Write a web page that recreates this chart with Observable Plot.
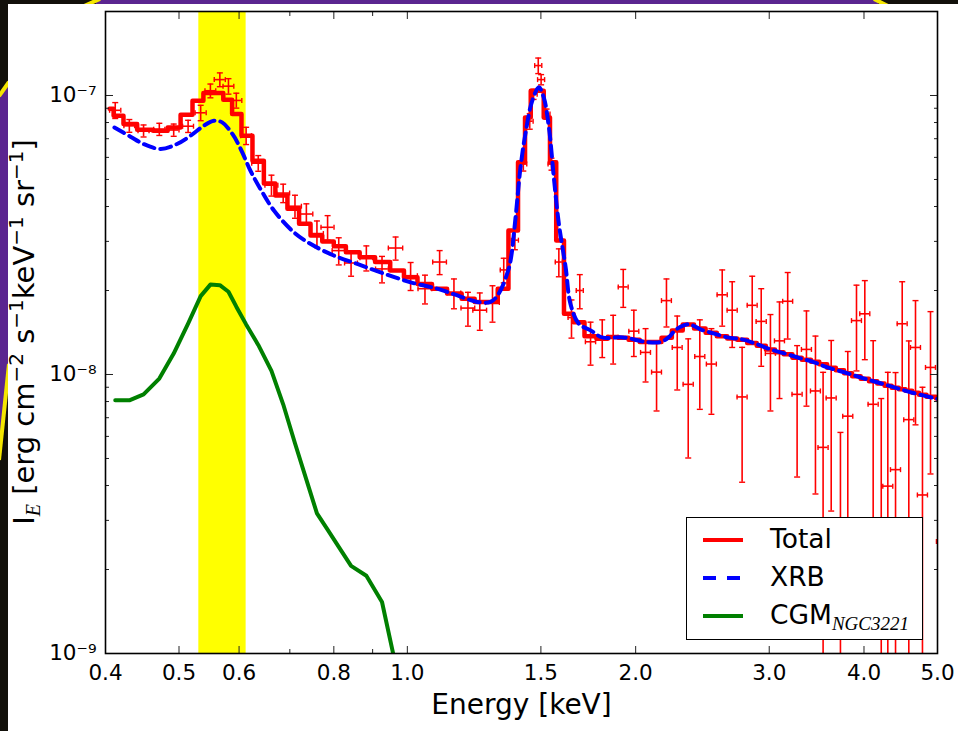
<!DOCTYPE html>
<html><head><meta charset="utf-8">
<script src="https://cdn.jsdelivr.net/npm/d3@7"></script>
<script src="https://cdn.jsdelivr.net/npm/@observablehq/plot@0.6"></script>
<style>
html,body{margin:0;padding:0;background:#fff;}
#wrap{position:relative;width:958px;height:731px;overflow:hidden;background:#12100a;font-family:"DejaVu Sans",sans-serif;color:#000;}
#deco{position:absolute;left:0;top:0;}
#panel{position:absolute;left:8px;top:4px;right:0;bottom:0;background:#fff;}
#chart{position:absolute;left:0;top:0;}
#ylab{position:absolute;left:25px;top:332px;transform:translate(-50%,-50%) rotate(-90deg);white-space:nowrap;font-size:29px;line-height:1;}
#ylab sub{font:italic 20px "Liberation Serif",serif;vertical-align:-6px;}
#ylab sup{font-size:20px;vertical-align:11px;line-height:1;}
#legend{position:absolute;left:686px;top:517px;width:235px;height:121px;border:1.6px solid #000;background:#fff;}
#legend .sw{position:absolute;left:15px;width:42px;height:10px;}
#legend .lb{position:absolute;left:83px;font-size:26.5px;line-height:1;}
#legend .lb i{font:italic 19px "Liberation Serif",serif;position:relative;top:6px;}
</style></head><body>
<div id="wrap">
  <svg id="deco" width="958" height="731">
    <rect x="0" y="0" width="958" height="731" fill="#12100a"/>
    <polygon points="96,0 878,0 878,4 96,4" fill="#5b2590"/>
    <polygon points="0,94 8,84 8,366 0,458" fill="#5b2590"/>
    <line x1="100" y1="-1" x2="84" y2="6" stroke="#f5e600" stroke-width="4"/>
    <line x1="874" y1="-1" x2="888" y2="6" stroke="#f5e600" stroke-width="4"/>
    <line x1="9" y1="82" x2="-1" y2="96" stroke="#f5e600" stroke-width="4"/>
    <line x1="9" y1="364" x2="-1" y2="460" stroke="#f5e600" stroke-width="4"/>
  </svg>
  <div id="panel"></div>
  <div id="chart"></div>
  <div id="ylab">I<sub>E</sub> [erg cm<sup>−2</sup> s<sup>−1</sup>keV<sup>−1</sup> sr<sup>−1</sup>]</div>
  <div id="legend">
    <svg class="sw" style="top:17px"><line x1="1" y1="5" x2="41" y2="5" stroke="#ff0000" stroke-width="4"/></svg>
    <div class="lb" style="top:8px">Total</div>
    <svg class="sw" style="top:55px"><line x1="1" y1="5" x2="41" y2="5" stroke="#0000ff" stroke-width="4" stroke-dasharray="13,11"/></svg>
    <div class="lb" style="top:46px">XRB</div>
    <svg class="sw" style="top:93px"><line x1="1" y1="5" x2="41" y2="5" stroke="#008000" stroke-width="4"/></svg>
    <div class="lb" style="top:84px">CGM<i>NGC3221</i></div>
  </div>
</div>
<script>
// ---- observed spectrum (keV, erg cm^-2 s^-1 keV^-1 sr^-1) ----
const energy = [0.412,0.430,0.449,0.471,0.492,0.514,0.534,0.550,0.566,0.581,0.595,0.613,0.636,0.662,0.686,0.711,0.736,0.760,0.785,0.812,0.843,0.883,0.926,0.965,1.010,1.055,1.103,1.152,1.202,1.246,1.295,1.340,1.386,1.422,1.450,1.467,1.488,1.501,1.526,1.549,1.584,1.646,1.688,1.744,1.807,1.868,1.926,1.989,2.061,2.131,2.196,2.269,2.346,2.430,2.517,2.601,2.681,2.763,2.849,2.928,3.011,3.095,3.173,3.265,3.359,3.452,3.533,3.621,3.724,3.808,3.910,4.010,4.113,4.215,4.300,4.402,4.492,4.583,4.677,4.777,4.895,5.061];
const energyErr = [0.007,0.007,0.0075,0.008,0.008,0.0085,0.009,0.009,0.0095,0.0095,0.010,0.010,0.0125,0.013,0.0135,0.014,0.0145,0.015,0.0155,0.016,0.0165,0.017,0.018,0.021,0.021,0.022,0.023,0.024,0.025,0.026,0.027,0.014,0.015,0.015,0.015,0.016,0.016,0.016,0.016,0.016,0.017,0.017,0.018,0.027,0.027,0.028,0.029,0.030,0.031,0.032,0.033,0.034,0.036,0.037,0.038,0.040,0.041,0.042,0.043,0.045,0.046,0.047,0.048,0.050,0.051,0.052,0.054,0.055,0.057,0.058,0.059,0.061,0.063,0.064,0.065,0.067,0.068,0.070,0.071,0.073,0.074,0.077];
const intensity = [8.85e-8,7.79e-8,7.47e-8,7.57e-8,7.52e-8,7.76e-8,8.67e-8,1.04e-7,1.14e-7,1.08e-7,9.60e-8,7.18e-8,5.72e-8,4.77e-8,4.47e-8,4.01e-8,3.76e-8,3.20e-8,3.37e-8,2.78e-8,2.51e-8,2.62e-8,2.39e-8,2.84e-8,2.26e-8,2.03e-8,2.53e-8,1.96e-8,1.73e-8,1.70e-8,1.81e-8,2.37e-8,3.03e-8,5.68e-8,8.09e-8,1.01e-7,1.28e-7,1.14e-7,8.58e-8,5.68e-8,2.53e-8,1.60e-8,2.00e-8,1.31e-8,1.36e-8,1.36e-8,2.06e-8,1.43e-8,1.20e-8,1.02e-8,1.84e-8,1.25e-8,9.22e-9,1.16e-8,1.09e-8,1.93e-8,1.70e-8,8.31e-9,1.77e-8,1.55e-8,1.19e-8,1.32e-8,1.83e-8,8.49e-9,1.23e-8,8.73e-9,5.48e-9,8.24e-9,5.0e-10,7.09e-9,1.56e-8,1.65e-8,7.82e-9,5.0e-10,3.98e-9,4.56e-9,1.52e-8,6.89e-9,1.25e-8,3.70e-9,1.06e-8,2.52e-9];
const intensityErr = [5.8e-9,4.1e-9,3.7e-9,3.8e-9,3.8e-9,3.9e-9,5.5e-9,5.9e-9,6.5e-9,6.9e-9,5.9e-9,5.1e-9,3.7e-9,4.1e-9,3.4e-9,3.8e-9,3.3e-9,3.5e-9,3.4e-9,3.1e-9,2.6e-9,2.7e-9,2.6e-9,2.7e-9,2.6e-9,2.4e-9,2.5e-9,2.4e-9,2.4e-9,2.6e-9,2.7e-9,2.4e-9,2.3e-9,3.2e-9,5.2e-9,4.2e-9,8.2e-9,4.8e-9,3.6e-9,2.8e-9,2.9e-9,2.5e-9,2.8e-9,2.3e-9,2.1e-9,2.7e-9,3.2e-9,2.7e-9,2.6e-9,2.8e-9,3.6e-9,3.7e-9,4.2e-9,4.1e-9,3.7e-9,4.4e-9,4.5e-9,4.2e-9,4.8e-9,4.8e-9,4.5e-9,5.0e-9,4.9e-9,4.2e-9,4.6e-9,5.0e-9,4.7e-9,5.0e-9,5.7e-9,5.0e-9,5.3e-9,5.2e-9,5.4e-9,7.7e-9,6.2e-9,5.6e-9,6.3e-9,6.3e-9,5.9e-9,5.3e-9,6.2e-9,5.0e-9];

// ---- model: Total (binned, drawn as steps) ----
const totalEnergy = [0.405,0.415,0.430,0.451,0.4735,0.493,0.512,0.530,0.547,0.564,0.580,0.595,0.614,0.636,0.658,0.682,0.708,0.732,0.759,0.786,0.814,0.846,0.885,0.929,0.970,1.010,1.053,1.103,1.154,1.205,1.249,1.295,1.337,1.382,1.417,1.442,1.467,1.498,1.528,1.556,1.587,1.631,1.681,1.744,1.807,1.868,1.926,1.989,2.061,2.131,2.196,2.269,2.346,2.430,2.517,2.601,2.681,2.763,2.849,2.928,3.011,3.095,3.173,3.265,3.359,3.452,3.533,3.621,3.724,3.808,3.910,4.010,4.113,4.215,4.300,4.402,4.492,4.583,4.677,4.777,4.895,5.061];
const totalModel = [8.96e-8,8.46e-8,7.90e-8,7.54e-8,7.47e-8,7.68e-8,8.53e-8,9.57e-8,1.02e-7,1.02e-7,9.65e-8,8.58e-8,7.18e-8,5.84e-8,4.84e-8,4.38e-8,3.93e-8,3.47e-8,3.15e-8,3.00e-8,2.88e-8,2.74e-8,2.63e-8,2.53e-8,2.36e-8,2.23e-8,2.11e-8,2.03e-8,1.95e-8,1.87e-8,1.82e-8,1.82e-8,2.03e-8,3.28e-8,5.76e-8,8.34e-8,1.04e-7,1.04e-7,8.34e-8,5.76e-8,3.02e-8,1.65e-8,1.54e-8,1.370e-8,1.344e-8,1.362e-8,1.355e-8,1.333e-8,1.307e-8,1.307e-8,1.355e-8,1.439e-8,1.512e-8,1.463e-8,1.410e-8,1.370e-8,1.347e-8,1.333e-8,1.298e-8,1.267e-8,1.228e-8,1.201e-8,1.181e-8,1.149e-8,1.129e-8,1.110e-8,1.088e-8,1.057e-8,1.035e-8,1.010e-8,9.85e-9,9.65e-9,9.46e-9,9.28e-9,9.11e-9,8.96e-9,8.85e-9,8.74e-9,8.60e-9,8.46e-9,8.32e-9,8.20e-9];

// ---- model: XRB ----
const xrbEnergy = [0.411,0.4315,0.449,0.473,0.497,0.518,0.539,0.556,0.570,0.588,0.603,0.621,0.640,0.667,0.708,0.745,0.800,0.859,0.931,1.010,1.095,1.164,1.236,1.287,1.320,1.354,1.368,1.389,1.410,1.431,1.461,1.491,1.513,1.537,1.560,1.584,1.617,1.641,1.683,1.744,1.807,1.927,2.061,2.157,2.210,2.251,2.292,2.334,2.377,2.435,2.533,2.643,2.774,2.895,3.011,3.170,3.298,3.431,3.580,3.805,3.994,4.206,4.428,4.649,5.0];
const xrbModel = [7.68e-8,7.12e-8,6.70e-8,6.43e-8,6.70e-8,7.18e-8,7.79e-8,8.12e-8,8.01e-8,7.28e-8,6.43e-8,5.38e-8,4.63e-8,3.87e-8,3.24e-8,2.94e-8,2.67e-8,2.49e-8,2.30e-8,2.14e-8,2.03e-8,1.92e-8,1.82e-8,1.82e-8,1.95e-8,2.30e-8,2.56e-8,3.66e-8,5.53e-8,7.28e-8,9.57e-8,1.07e-7,9.84e-8,7.68e-8,5.09e-8,3.47e-8,2.42e-8,1.79e-8,1.52e-8,1.439e-8,1.358e-8,1.358e-8,1.309e-8,1.307e-8,1.358e-8,1.434e-8,1.482e-8,1.512e-8,1.500e-8,1.451e-8,1.404e-8,1.358e-8,1.333e-8,1.282e-8,1.231e-8,1.181e-8,1.143e-8,1.108e-8,1.061e-8,1.010e-8,9.69e-9,9.30e-9,8.92e-9,8.58e-9,8.18e-9];

// ---- model: CGM NGC3221 ----
const cgmEnergy = [0.412,0.430,0.449,0.471,0.492,0.514,0.534,0.550,0.566,0.581,0.595,0.613,0.636,0.662,0.686,0.711,0.736,0.760,0.785,0.812,0.843,0.883,0.926,0.965];
const cgmModel = [8.08e-9,8.08e-9,8.49e-9,9.67e-9,1.188e-8,1.522e-8,1.909e-8,2.10e-8,2.09e-8,1.98e-8,1.75e-8,1.512e-8,1.276e-8,1.031e-8,7.82e-9,5.67e-9,4.20e-9,3.18e-9,2.78e-9,2.41e-9,2.06e-9,1.90e-9,1.53e-9,9.1e-10];

// ---- highlighted band (keV) ----
const bandStart = [0.531];
const bandEnd = [0.613];

// ---- axes ----
const xTickLabels = [0.4,0.5,0.6,0.8,1.0,1.5,2.0,3.0,4.0,5.0];
const xMinorTicks = [0.7,0.9];
const yTicks = [1e-9,1e-8,1e-7];
const yMinorTicks = [2e-9,3e-9,4e-9,5e-9,6e-9,7e-9,8e-9,9e-9,2e-8,3e-8,4e-8,5e-8,6e-8,7e-8,8e-8,9e-8,2e-7];

const data = energy.map((E,i)=>({E, dE: energyErr[i], I: intensity[i], dI: intensityErr[i]}));
const total = totalEnergy.map((E,i)=>({E, I: totalModel[i]}));
const xrb = xrbEnergy.map((E,i)=>({E, I: xrbModel[i]}));
const cgm = cgmEnergy.map((E,i)=>({E, I: cgmModel[i]}));
const band = bandStart.map((s,i)=>({x1: s, x2: bandEnd[i]}));

const hCap = {draw(ctx, size){const r=Math.sqrt(size/Math.PI); ctx.moveTo(-r,0); ctx.lineTo(r,0);}};
const vCap = {draw(ctx, size){const r=Math.sqrt(size/Math.PI); ctx.moveTo(0,-r); ctx.lineTo(0,r);}};
const sup = {"-":"⁻","0":"⁰","1":"¹","2":"²","3":"³","4":"⁴","5":"⁵","6":"⁶","7":"⁷","8":"⁸","9":"⁹"};
const powFmt = d => "10" + String(Math.round(Math.log10(d))).split("").map(c=>sup[c]).join("");
const red = "#ff0000";
const lower = d => Math.max(d.I - d.dI, 1e-11);

const chart = Plot.plot({
  width: 958, height: 731,
  marginLeft: 105, marginRight: 21, marginTop: 11, marginBottom: 78,
  x: {type: "log", domain: [0.4, 5.0]},
  y: {type: "log", domain: [1e-9, 2e-7]},
  style: {background: "transparent", fontFamily: "DejaVu Sans", overflow: "visible", color: "black"},
  marks: [
    Plot.rect(band, {x1: "x1", x2: "x2", fill: "#ffff00"}),
    Plot.line(total, {x: "E", y: "I", curve: "step", stroke: red, strokeWidth: 4.5, clip: true}),
    Plot.ruleX(data, {x: "E", y1: lower, y2: d => d.I + d.dI, stroke: red, strokeWidth: 1.6, clip: true}),
    Plot.ruleY(data, {y: "I", x1: d => d.E - d.dE, x2: d => d.E + d.dE, stroke: red, strokeWidth: 1.6, clip: true}),
    Plot.dot(data, {x: "E", y: d => d.I + d.dI, symbol: hCap, r: 3, fill: "none", stroke: red, strokeWidth: 1.4, clip: true}),
    Plot.dot(data.filter(d => d.I - d.dI > 0), {x: "E", y: d => d.I - d.dI, symbol: hCap, r: 3, fill: "none", stroke: red, strokeWidth: 1.4, clip: true}),
    Plot.dot(data, {x: d => d.E - d.dE, y: "I", symbol: vCap, r: 2.5, fill: "none", stroke: red, strokeWidth: 1.4, clip: true}),
    Plot.dot(data, {x: d => d.E + d.dE, y: "I", symbol: vCap, r: 2.5, fill: "none", stroke: red, strokeWidth: 1.4, clip: true}),
    Plot.line(xrb, {x: "E", y: "I", curve: "catmull-rom", stroke: "#0000ff", strokeWidth: 4, strokeDasharray: "11,6", clip: true}),
    Plot.line(cgm, {x: "E", y: "I", stroke: "#008000", strokeWidth: 4, clip: true}),
    // ticks (inward)
    Plot.axisX(xTickLabels, {anchor: "bottom", tickSize: 7, dy: -7, fill: "none", label: null, stroke: "#222"}),
    Plot.axisX(xTickLabels, {anchor: "top", tickSize: 7, dy: 7, fill: "none", label: null, stroke: "#222"}),
    Plot.axisX(xMinorTicks, {anchor: "bottom", tickSize: 4, dy: -4, fill: "none", label: null, stroke: "#222"}),
    Plot.axisX(xMinorTicks, {anchor: "top", tickSize: 4, dy: 4, fill: "none", label: null, stroke: "#222"}),
    Plot.axisY(yTicks, {anchor: "left", tickSize: 8, dx: 8, fill: "none", label: null, stroke: "#222"}),
    Plot.axisY(yTicks, {anchor: "right", tickSize: 8, dx: -8, fill: "none", label: null, stroke: "#222"}),
    Plot.axisY(yMinorTicks, {anchor: "left", tickSize: 4, dx: 4, fill: "none", label: null, stroke: "#222"}),
    Plot.axisY(yMinorTicks, {anchor: "right", tickSize: 4, dx: -4, fill: "none", label: null, stroke: "#222"}),
    // tick labels
    Plot.axisX(xTickLabels, {anchor: "bottom", tickSize: 0, tickPadding: 11, tickFormat: d => d.toFixed(1), fontSize: 21.5, label: null, fill: "black"}),
    Plot.axisY(yTicks, {anchor: "left", tickSize: 0, tickPadding: 9, tickFormat: powFmt, fontSize: 21.5, label: null, fill: "black"}),
    Plot.text(["Energy [keV]"], {frameAnchor: "bottom", lineAnchor: "top", dy: 41, fontSize: 28, fill: "black"}),
    Plot.frame({stroke: "black", strokeWidth: 1.6})
  ]
});
document.getElementById("chart").appendChild(chart);
</script>
</body></html>
